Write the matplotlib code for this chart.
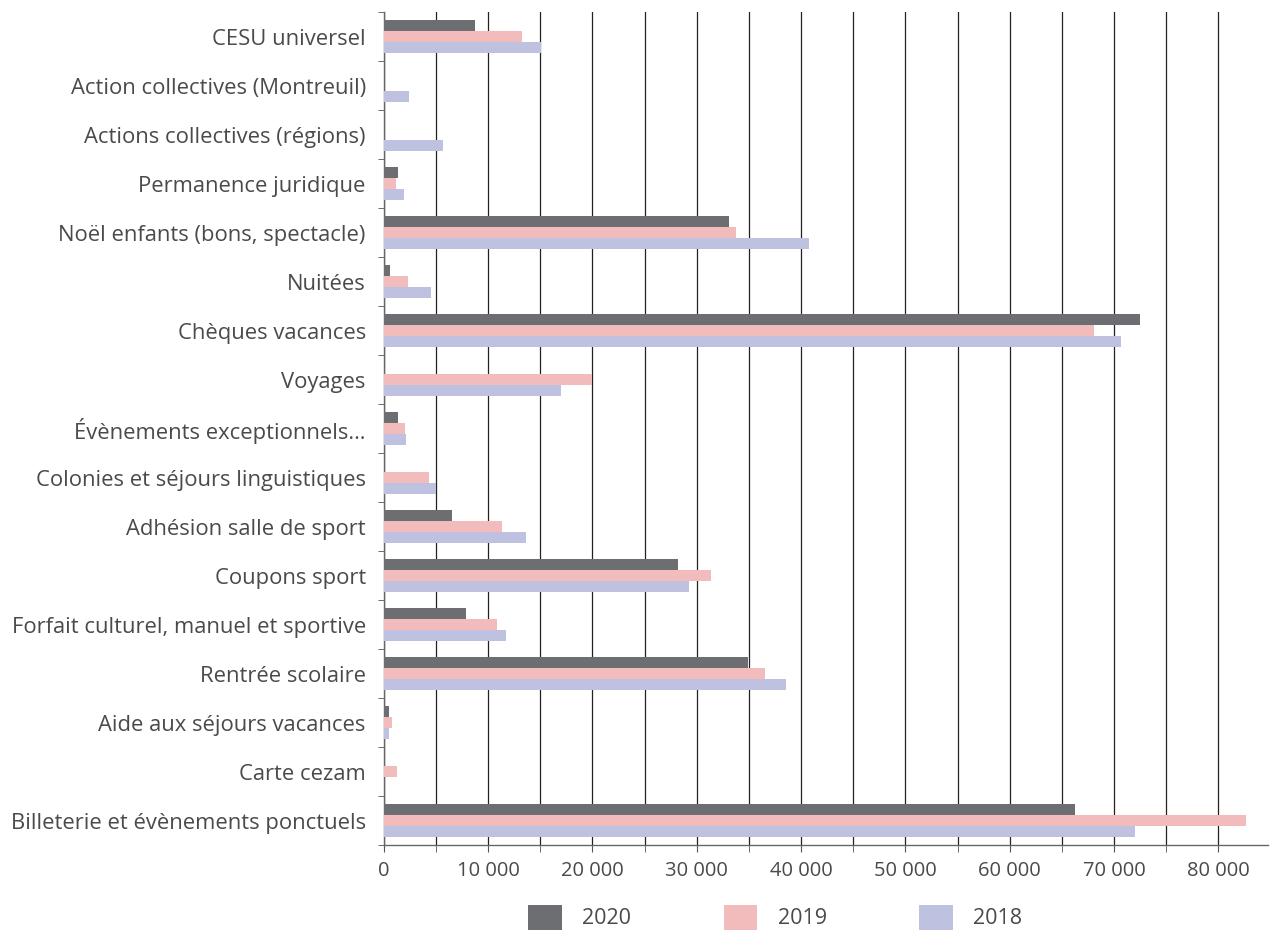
import numpy as np
import matplotlib.pyplot as plt
from matplotlib.ticker import MultipleLocator, FuncFormatter

plt.rcParams['font.family'] = ['Open Sans', 'DejaVu Sans']

categories = ['CESU universel', 'Action collectives (Montreuil)', 'Actions collectives (régions)',
              'Permanence juridique', 'Noël enfants (bons, spectacle)', 'Nuitées',
              'Chèques vacances', 'Voyages', 'Évènements exceptionnels…',
              'Colonies et séjours linguistiques', 'Adhésion salle de sport', 'Coupons sport',
              'Forfait culturel, manuel et sportive', 'Rentrée scolaire',
              'Aide aux séjours vacances', 'Carte cezam', 'Billeterie et évènements ponctuels']

v2020 = [8700, 0, 0, 1400, 33100, 550, 72500, 0, 1350, 0, 6500, 28200, 7850, 34900, 480, 0, 66250]
v2019 = [13200, 0, 0, 1200, 33750, 2300, 68100, 19950, 2000, 4300, 11300, 31350, 10830, 36530, 770, 1250, 82650]
v2018 = [15100, 2400, 5650, 1900, 40750, 4500, 70650, 16970, 2100, 5000, 13600, 29250, 11700, 38540, 480, 0, 72000]

series = [('2020', v2020, '#6d6e71'), ('2019', v2019, '#f2bcbc'), ('2018', v2018, '#bfc1e0')]

fig = plt.figure(figsize=(12.71, 9.33), dpi=100)
ax = fig.add_axes([0.302, 0.094, 0.696, 0.893])

y = np.arange(len(categories))
h = 0.225
for i, (lab, vals, col) in enumerate(series):
    ax.barh(y + (i - 1) * h, vals, height=h, color=col, label=lab,
            linewidth=0, zorder=3)

ax.set_xlim(0, 84800)
ax.set_ylim(len(categories) - 0.5, -0.5)
ax.xaxis.set_major_locator(MultipleLocator(10000))
ax.xaxis.set_minor_locator(MultipleLocator(5000))
ax.xaxis.set_major_formatter(FuncFormatter(lambda v, p: f'{int(v):,}'.replace(',', ' ') if v else '0'))
ax.grid(axis='x', which='both', color='#222222', linewidth=0.9, zorder=0)

ax.set_yticks(y)
ax.set_yticklabels(categories)
ax.set_yticks(np.arange(len(categories) + 1) - 0.5, minor=True)
ax.tick_params(axis='y', which='major', length=0, pad=13, labelsize=15.8, labelcolor='#4a4a4a')
ax.tick_params(axis='y', which='minor', length=4, color='#555555')
ax.tick_params(axis='x', which='both', length=5, color='#555555', labelsize=14.5,
               labelcolor='#4a4a4a', pad=6)

for s in ['top', 'right']:
    ax.spines[s].set_visible(False)
for s in ['left', 'bottom']:
    ax.spines[s].set_color('#666666')
    ax.spines[s].set_linewidth(1.0)

handles, labels = ax.get_legend_handles_labels()
fig.legend(handles, labels, loc='center', bbox_to_anchor=(0.61, 0.017), ncol=3,
           frameon=False, fontsize=15.5, labelcolor='#4a4a4a',
           handlelength=1.55, handleheight=1.4, handletextpad=0.95, columnspacing=4.3)

fig.savefig('out.png', dpi=100)
